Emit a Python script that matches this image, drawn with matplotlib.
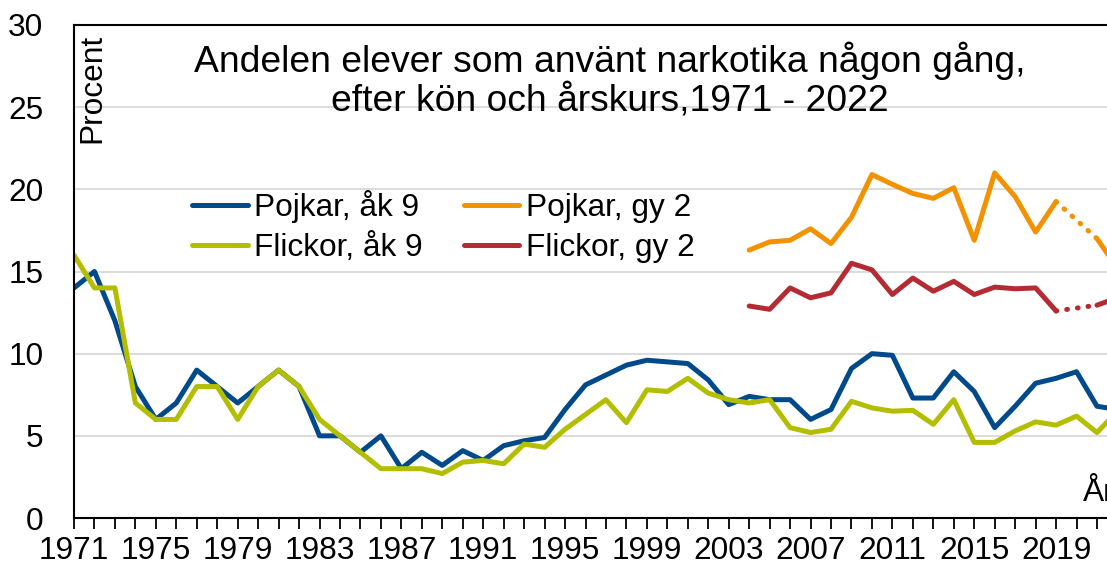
import numpy as np
import matplotlib
matplotlib.use("Agg")
import matplotlib.pyplot as plt

plt.rcParams['font.family'] = ['Liberation Sans', 'DejaVu Sans']

years = np.arange(1971, 2023)
boys_ak9 = [14, 15, 12, 8, 6, 7, 9, 8, 7, 8, 9, 8,
            5, 5, 4, 5, 3, 4, 3.2, 4.1, 3.5, 4.4, 4.7, 4.9,
            6.6, 8.1, 8.7, 9.3, 9.6, 9.5, 9.4, 8.4, 6.9, 7.4, 7.2, 7.2,
            6.0, 6.6, 9.1, 10.0, 9.9, 7.3, 7.3, 8.9, 7.7, 5.5, 6.8, 8.2,
            8.5, 8.9, 6.8, 6.6]
girls_ak9 = [16, 14, 14, 7, 6, 6, 8, 8, 6, 8, 9, 8,
             6, 5, 4, 3, 3, 3, 2.7, 3.4, 3.5, 3.3, 4.5, 4.3,
             5.4, 6.3, 7.2, 5.8, 7.8, 7.7, 8.5, 7.6, 7.2, 7.0, 7.2, 5.5,
             5.2, 5.4, 7.1, 6.7, 6.5, 6.55, 5.7, 7.2, 4.6, 4.6, 5.3, 5.85,
             5.65, 6.2, 5.2, 6.5]

years_gy2 = np.array(list(range(2004, 2020)) + [2021, 2022])
boys_gy2 = [16.3, 16.8, 16.9, 17.6, 16.7, 18.3, 20.9, 20.3, 19.75, 19.45,
            20.1, 16.9, 21.0, 19.55, 17.4, 19.25, 17.0, 15.2]
girls_gy2 = [12.9, 12.7, 14.0, 13.4, 13.7, 15.5, 15.1, 13.6, 14.6, 13.8,
             14.4, 13.6, 14.05, 13.95, 14.0, 12.6, 12.95, 13.4]

labels = ["Pojkar, åk 9", "Flickor, åk 9", "Pojkar, gy 2", "Flickor, gy 2"]
c_blue, c_green, c_orange, c_red = "#004a8b", "#b4be00", "#f39200", "#b52b33"

fig = plt.figure(figsize=(11.07, 5.72), dpi=100)
W, H = 1107, 572
x0, x1 = 74, 74 + 20.46 * 51
y_top, y_bot = 25, 518
ax = fig.add_axes([x0 / W, (H - y_bot) / H, (x1 - x0) / W, (y_bot - y_top) / H])

lw = 3.6
kw = dict(lw=lw, solid_capstyle='round', solid_joinstyle='round')
ax.plot(years, boys_ak9, color=c_blue, label=labels[0], **kw)
ax.plot(years, girls_ak9, color=c_green, label=labels[1], **kw)

# gy 2: heldragen linje, prickad 2019-2021, sedan heldragen igen
for vals, col, lab in [(boys_gy2, c_orange, labels[2]), (girls_gy2, c_red, labels[3])]:
    v = np.array(vals)
    ax.plot(years_gy2[:16], v[:16], color=col, label=lab, **kw)
    ax.plot(years_gy2[15:17], v[15:17], color=col, lw=lw, linestyle=(0, (0.15, 2.0)),
            dash_capstyle='round')
    ax.plot(years_gy2[16:], v[16:], color=col, **kw)

ax.set_xlim(1971, 2022)
ax.set_ylim(0, 30)
ax.set_yticks(range(0, 31, 5))
ax.yaxis.grid(True, color="#d9d9d9", lw=1.3)
ax.set_axisbelow(True)
ax.set_xticks(years)
ax.set_xticklabels([str(y) if (y - 1971) % 4 == 0 else "" for y in years])
ax.tick_params(axis='x', length=8, width=1.3, direction='out', pad=5, labelsize=22.8)
ax.tick_params(axis='y', length=0, pad=22, labelsize=22.8)
for s in ['left', 'bottom', 'top']:
    ax.spines[s].set_linewidth(1.5)
    ax.spines[s].set_color('black')
ax.spines['right'].set_visible(False)

ax.legend(ncol=2, loc='upper left', bbox_to_anchor=(0.1135, 0.665), frameon=False,
          fontsize=22.8, handlelength=1.75, handletextpad=0.2, columnspacing=1.3,
          labelspacing=0.3, borderpad=0, borderaxespad=0)

fig.text(610 / W, (H - 80) / H,
         "Andelen elever som använt narkotika någon gång,\nefter kön och årskurs,1971 - 2022",
         ha='center', va='center', fontsize=26.8, linespacing=1.1)
fig.text(92 / W, (H - 34) / H, "Procent", rotation=90, ha='center', va='top', fontsize=22.8)
fig.text(1083 / W, (H - 493) / H, "År", ha='left', va='center', fontsize=22.8)

fig.savefig("out.png", dpi=100)
